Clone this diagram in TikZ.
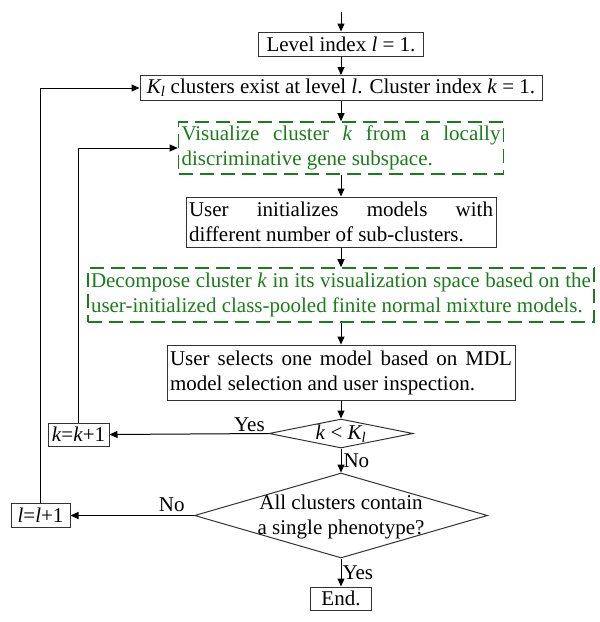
\documentclass[tikz,border=0pt]{standalone}
\usepackage{fontspec}
\setmainfont{Liberation Serif}
\usetikzlibrary{arrows.meta,shapes.geometric}
\definecolor{dgreen}{RGB}{25,125,25}
\begin{document}
\begin{tikzpicture}[x=1pt,y=-1pt,
  font=\fontsize{21}{25}\selectfont,
  box/.style={draw=black!80, line width=1pt, inner xsep=3pt, inner ysep=1pt, align=center},
  jbox/.style={box, align=justify},
  gbox/.style={draw=dgreen, text=dgreen, line width=1.6pt, dash pattern=on 14pt off 7pt, inner xsep=3pt, inner ysep=1pt, align=justify},
  dec/.style={diamond, draw=black!80, line width=1pt, inner sep=0pt},
  arr/.style={-{Triangle[length=8pt,width=7pt]}, line width=1pt},
  lbl/.style={inner sep=1pt}
]
\useasboundingbox (0,0) rectangle (600,622);
\coordinate (start) at (341,12);
\node[box, minimum width=165pt, minimum height=24pt] (lev) at (341,44) {Level index \textit{l} = 1.};
\node[box, minimum width=402pt, minimum height=25pt] (kl) at (341,88) {\textit{K\textsubscript{l}} clusters exist at level \textit{l}. Cluster index \textit{k} = 1.};
\node[gbox, text width=319pt, minimum height=52pt] (vis) at (341,148) {\hyphenpenalty=10000 Visualize cluster \textit{k} from a locally\linebreak discriminative gene subspace.};
\node[jbox, text width=304pt, minimum height=50pt] (ui) at (341,222) {\hyphenpenalty=10000 User initializes models with\linebreak different number of sub-clusters.};
\node[gbox, text width=500pt, minimum height=54pt] (dc) at (341,295) {\hyphenpenalty=10000 Decompose cluster \textit{k} in its visualization space based on the\linebreak user-initialized class-pooled finite normal mixture models.};
\node[jbox, text width=342pt, minimum height=55pt] (sel) at (341,372.5) {\hyphenpenalty=10000 User selects one model based on MDL\linebreak model selection and user inspection.};
\node[dec, minimum width=144pt, minimum height=29pt] (d1) at (341,433.5) {};
\node[inner sep=0pt] (d1t) at (341,433.5) {\textit{k} < \textit{K\textsubscript{l}}};
\node[box, minimum width=61pt, minimum height=23pt, inner xsep=1pt] (kk) at (78.5,434.5) {\textit{k}=\textit{k}+1};
\node[dec, minimum width=293pt, minimum height=85pt] (d2) at (341,515.5) {};
\node[inner sep=0pt, align=center] (d2t) at (341,517) {All clusters contain\\a single phenotype?};
\node[box, minimum width=59pt, minimum height=24pt, inner xsep=1pt] (ll) at (40.5,515.5) {\textit{l}=\textit{l}+1};
\node[box, minimum width=61pt, minimum height=23pt] (end) at (341,598.5) {End.};

\draw[arr] (start) -- (lev);
\draw[arr] (lev) -- (kl);
\draw[arr] (kl) -- (vis);
\draw[arr] (vis) -- (ui);
\draw[arr] (ui) -- (dc);
\draw[arr] (dc) -- (sel);
\draw[arr] (sel) -- (d1);
\draw[arr] (d1) -- node[lbl, pos=0.5, right, xshift=1pt] (no1) {No} (d2);
\draw[arr] (d1.west) -- node[lbl, pos=0.12, above] (yes1) {Yes} (kk.east);
\draw[arr] (d2.west) -- node[lbl, pos=0.18, above, yshift=2pt] (no2) {No} (ll.east);
\draw[arr] (d2) -- node[lbl, pos=0.5, right] (yes2) {Yes} (end);
\draw[arr] (kk.north) |- (vis.west);
\draw[arr] (ll.north) |- (kl.west);
\end{tikzpicture}
\end{document}
